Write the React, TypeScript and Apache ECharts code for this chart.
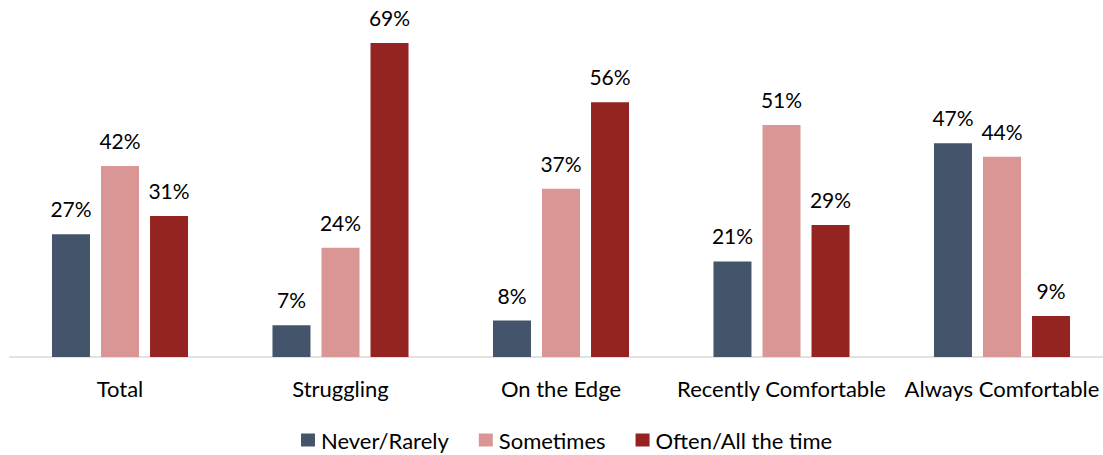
import React, { useEffect, useRef } from "react";
import * as echarts from "echarts";

const categories = ["Total", "Struggling", "On the Edge", "Recently Comfortable", "Always Comfortable"];
const seriesNames = ["Never/Rarely", "Sometimes", "Often/All the time"];
const neverRarely = [27, 7, 8, 21, 47];
const sometimes = [42, 24, 37, 51, 44];
const oftenAll = [31, 69, 56, 29, 9];
const colors = ["#44546A", "#D99694", "#942421"];

const FONT = "Lato";

export default function App() {
  const ref = useRef<HTMLDivElement>(null);
  useEffect(() => {
    if (!ref.current) return;
    const chart = echarts.init(ref.current, undefined, { renderer: "svg" });
    const values = [neverRarely, sometimes, oftenAll];
    chart.setOption({
      animation: false,
      textStyle: { fontFamily: FONT },
      grid: { left: 9.75, right: 0.75, top: 38.5, bottom: 98, containLabel: false },
      legend: {
        top: 424,
        left: 296,
        itemWidth: 14,
        itemHeight: 13,
        itemGap: 30,
        icon: "rect",
        textStyle: { fontFamily: FONT, fontSize: 22, color: "#000", padding: [0, 0, 0, 1] },
        data: seriesNames,
      },
      xAxis: {
        type: "category",
        data: categories,
        axisLine: { lineStyle: { color: "#D9D9D9", width: 1.5 } },
        axisTick: { show: false },
        axisLabel: { fontFamily: FONT, fontSize: 22, color: "#000", margin: 20, interval: 0 },
      },
      yAxis: {
        type: "value",
        min: 0,
        max: 70,
        show: false,
        splitLine: { show: false },
      },
      series: seriesNames.map((name, i) => ({
        name,
        type: "bar",
        data: values[i],
        barWidth: 38,
        barGap: "29%",
        itemStyle: { color: colors[i] },
        label: {
          show: true,
          position: "top",
          distance: 15,
          formatter: "{c}%",
          fontFamily: FONT,
          fontSize: 21,
          color: "#000",
        },
      })),
    });
    return () => chart.dispose();
  }, []);
  return (
    <div style={{ width: 1103, height: 455, position: "absolute", left: 0, top: 0, overflow: "hidden" }}>
      <div ref={ref} style={{ width: 1113, height: 455 }} />
    </div>
  );
}
